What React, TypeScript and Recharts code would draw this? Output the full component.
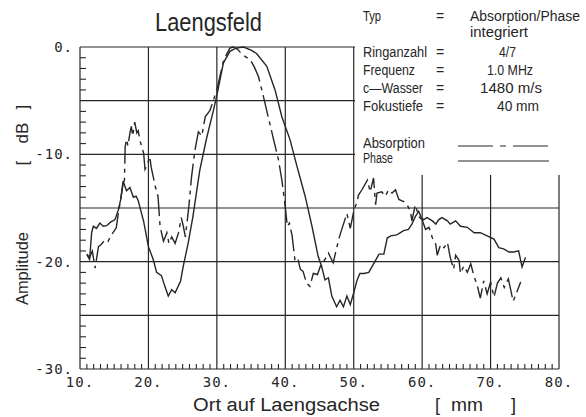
import React from "react";
import { LineChart, Line, XAxis, YAxis, ReferenceLine } from "recharts";

// Absorption (dash-dot) : [mm, dB]
const absorptionMm = [11.0, 11.4, 11.8, 12.2, 12.7, 13.1, 13.65, 14.1, 14.6, 15.3, 15.6, 16.0, 16.3, 16.5, 16.6, 16.8, 17.0, 17.3, 17.5, 17.7, 18.0, 18.3, 18.5, 18.8, 19.3, 19.5, 19.8, 20.2, 20.4, 21.0, 21.4, 21.7, 22.2, 22.7, 23.0, 23.4, 23.9, 24.4, 24.8, 25.1, 25.4, 25.9, 26.3, 26.8, 27.3, 27.8, 28.3, 29.0, 30.0, 31.0, 31.9, 32.4, 33.0, 33.7, 34.9, 35.5, 36.1, 36.8, 37.5, 38.3, 39.0, 39.5, 40.0, 40.3, 40.6, 41.0, 41.4, 41.8, 42.2, 42.6, 43.1, 43.6, 44.1, 44.7, 45.2, 45.8, 46.3, 47.0, 47.8, 48.0, 48.5, 49.0, 49.5, 50.0, 50.5, 50.7, 51.2, 52.0, 52.4, 52.9, 53.2, 53.4, 54.1, 54.6, 55.1, 55.6, 56.1, 56.6, 57.3, 57.8, 58.3, 58.5, 59.0, 59.5, 60.0, 60.5, 61.0, 61.5, 62.0, 62.2, 62.7, 63.2, 63.7, 64.1, 64.6, 64.9, 65.4, 65.6, 66.1, 66.6, 67.1, 67.6, 68.0, 68.5, 69.0, 69.5, 70.0, 70.5, 71.0, 71.5, 72.0, 72.6, 73.3, 74.4];
const absorptionDb = [-19.3, -19.6, -19.0, -20.6, -18.6, -18.4, -17.95, -18.1, -17.5, -16.85, -15.5, -14.0, -12.7, -12.4, -9.3, -8.6, -9.2, -8.0, -7.4, -8.3, -7.0, -8.0, -7.8, -8.8, -9.9, -11.4, -11.0, -10.2, -11.2, -13.0, -13.9, -16.7, -18.1, -17.3, -18.3, -17.7, -18.3, -17.3, -15.9, -16.7, -17.7, -14.9, -12.1, -9.6, -7.9, -8.3, -6.5, -5.9, -4.0, -1.2, -0.1, 0, -0.2, -0.7, -1.2, -1.9, -2.8, -4.6, -6.5, -8.65, -10.5, -12.4, -14.9, -16.7, -16.4, -17.6, -19.8, -19.6, -20.7, -20.9, -22.0, -22.3, -21.1, -21.2, -20.3, -19.8, -19.2, -20.1, -17.95, -17.5, -16.5, -15.5, -16.9, -15.3, -14.4, -13.8, -13.3, -12.4, -13.5, -12.2, -14.7, -13.6, -13.5, -13.9, -13.3, -13.6, -13.3, -14.2, -14.4, -14.7, -15.3, -16.2, -14.7, -15.8, -16.1, -17.0, -16.8, -17.8, -18.4, -19.4, -18.4, -18.7, -18.2, -19.6, -20.7, -19.4, -19.9, -21.1, -20.4, -21.0, -20.2, -21.4, -22.1, -23.4, -21.8, -23.0, -21.9, -23.3, -22.0, -21.5, -22.4, -21.6, -23.7, -21.9];

// Phase (solid) : [mm, dB]
const phaseMm = [11.0, 11.4, 11.7, 11.95, 12.4, 12.9, 13.4, 13.9, 14.5, 15.1, 15.6, 15.95, 16.3, 16.8, 17.3, 17.8, 18.2, 18.5, 19.3, 20.0, 20.7, 21.2, 21.9, 22.4, 22.9, 23.4, 23.9, 24.7, 25.1, 25.8, 26.5, 27.5, 28.5, 29.5, 30.0, 30.95, 31.9, 32.8, 33.9, 35.0, 35.8, 37.3, 38.5, 39.5, 40.7, 41.7, 42.9, 43.9, 44.8, 45.3, 45.8, 46.3, 46.8, 47.5, 48.0, 48.5, 49.0, 49.5, 50.0, 50.5, 50.9, 51.5, 52.2, 52.9, 53.7, 54.4, 54.9, 55.4, 56.3, 57.3, 58.0, 58.5, 59.0, 59.5, 59.8, 60.2, 60.7, 61.5, 62.0, 62.4, 62.9, 63.7, 64.1, 64.9, 65.6, 66.6, 67.6, 68.5, 69.5, 70.5, 71.2, 71.9, 72.7, 73.4, 74.1, 74.6, 75.1];
const phaseDb = [-19.35, -19.8, -17.3, -16.7, -16.9, -16.4, -16.7, -16.65, -16.3, -16.1, -15.2, -14.2, -12.5, -13.4, -13.1, -14.0, -13.9, -14.3, -16.25, -18.6, -19.8, -21.0, -21.3, -22.3, -23.2, -22.6, -22.9, -21.8, -20.4, -18.3, -15.8, -11.5, -8.5, -5.9, -4.5, -1.5, -0.4, -0.1, 0, -0.3, -0.6, -1.8, -4.0, -6.5, -8.65, -11.1, -13.9, -16.7, -19.5, -20.4, -21.7, -21.5, -23.2, -24.2, -23.6, -24.2, -23.2, -24.0, -22.9, -21.7, -21.1, -21.1, -21.0, -20.2, -19.3, -19.3, -17.8, -17.6, -17.5, -17.1, -17.0, -16.5, -15.8, -15.3, -15.8, -16.1, -15.9, -16.2, -16.5, -16.1, -15.9, -16.2, -16.5, -16.2, -16.7, -16.8, -17.3, -17.3, -17.6, -17.9, -18.7, -18.8, -19.1, -19.1, -19.0, -20.5, -19.6];

const majorX = [10, 20, 30, 40, 50, 60, 70, 80];
const majorYLabels = [0, -10, -20, -30];
const gridX = [10, 20, 30, 40, 50, 60, 70, 80];
const gridY = [0, -5, -10, -15, -20, -25, -30];

const minorX: number[] = [];
for (let v = 10; v <= 80; v++) minorX.push(v);
const minorY: number[] = [];
for (let v = -30; v <= 0; v++) minorY.push(v);

const absorptionData = absorptionMm.map((mm, i) => ({ mm, db: absorptionDb[i] }));
const phaseData = phaseMm.map((mm, i) => ({ mm, db: phaseDb[i] }));

const INK = "#262626";
const MONO = "'DejaVu Sans Mono', 'Liberation Mono', monospace";
const SANS = "'Liberation Sans', 'DejaVu Sans', sans-serif";

const XTick = (props: any) => {
  const { x, y, payload } = props;
  const v = payload.value;
  const major = majorX.includes(v);
  return (
    <g>
      {!major && <line x1={x} x2={x} y1={y} y2={y - 5} stroke={INK} strokeWidth={1.1} />}
      {major && (
        <text x={x} y={y + 18} textAnchor="middle" fontFamily={MONO} fontSize={14} fill={INK} letterSpacing={1}>
          {`${v}.`}
        </text>
      )}
    </g>
  );
};

const YTick = (props: any) => {
  const { x, y, payload } = props;
  const v = payload.value;
  const labeled = majorYLabels.includes(v);
  const onGrid = gridY.includes(v);
  return (
    <g>
      {!onGrid && <line x1={x} x2={x + 6} y1={y} y2={y} stroke={INK} strokeWidth={1.1} />}
      {labeled && (
        <text x={x - 7} y={y + 5} textAnchor="end" fontFamily={MONO} fontSize={14} fill={INK} letterSpacing={1}>
          {`${v}.`}
        </text>
      )}
    </g>
  );
};

const infoRows = [
  { label: "Typ", lw: 18, value: "Absorption/Phase", vw: 110, y: 21, vx: 470 },
  { label: "", lw: 0, value: "integriert", vw: 58, y: 37, vx: 470 },
  { label: "Ringanzahl", lw: 64, value: "4/7", vw: 17, y: 57, vx: 499 },
  { label: "Frequenz", lw: 52, value: "1.0 MHz", vw: 46, y: 75, vx: 487 },
  { label: "c\u2014Wasser", lw: 60, value: "1480 m/s", vw: 62, y: 93, vx: 480 },
  { label: "Fokustiefe", lw: 60, value: "40 mm", vw: 42, y: 111, vx: 497 },
];

const T = (p: any) => {
  const { children, w, ...rest } = p;
  return (
    <text fontFamily={SANS} fill={INK} textLength={w} lengthAdjust="spacingAndGlyphs" {...rest}>
      {children}
    </text>
  );
};

export default function App() {
  return (
    <div style={{ position: "absolute", left: 0, top: 0, width: 586, height: 417, background: "#fff" }}>
      <LineChart width={586} height={417} margin={{ top: 47, right: 27, bottom: 47, left: 79 }}>
        <XAxis
          dataKey="mm"
          type="number"
          domain={[10, 80]}
          ticks={minorX}
          interval={0}
          height={1}
          tickSize={0}
          tickMargin={0}
          tickLine={false}
          axisLine={false}
          tick={<XTick />}
          allowDuplicatedCategory={false}
        />
        <YAxis
          dataKey="db"
          type="number"
          domain={[-30, 0]}
          ticks={minorY}
          interval={0}
          width={1}
          tickSize={0}
          tickMargin={0}
          tickLine={false}
          axisLine={false}
          tick={<YTick />}
        />
        {gridX.map((v) => (
          <ReferenceLine key={"gx" + v} x={v} stroke={INK} strokeWidth={1.2} />
        ))}
        {gridY.map((v) => (
          <ReferenceLine key={"gy" + v} y={v} stroke={INK} strokeWidth={1.2} />
        ))}
        <Line
          data={absorptionData}
          dataKey="db"
          type="linear"
          stroke={INK}
          strokeWidth={1.4}
          strokeDasharray="22 5 4 5"
          dot={false}
          isAnimationActive={false}
        />
        <Line
          data={phaseData}
          dataKey="db"
          type="linear"
          stroke={INK}
          strokeWidth={1.4}
          dot={false}
          isAnimationActive={false}
        />
      </LineChart>
      <svg width={586} height={417} style={{ position: "absolute", left: 0, top: 0, pointerEvents: "none" }}>
        <rect x={355} y={0} width={231} height={175} fill="#fff" />
        <T x={155} y={31} fontSize={26} w={107}>
          Laengsfeld
        </T>
        {infoRows.map((r, i) => (
          <g key={i}>
            {r.label && (
              <T x={363} y={r.y} fontSize={14} w={r.lw}>
                {r.label}
              </T>
            )}
            {r.label && (
              <text x={440} y={r.y} textAnchor="middle" fontFamily={SANS} fontSize={14} fill={INK}>
                =
              </text>
            )}
            <T x={r.vx} y={r.y} fontSize={14} w={r.vw}>
              {r.value}
            </T>
          </g>
        ))}
        <T x={363} y={148} fontSize={14} w={62}>
          Absorption
        </T>
        <T x={363} y={163} fontSize={14} w={30}>
          Phase
        </T>
        <line x1={458} x2={549} y1={146} y2={146} stroke={INK} strokeWidth={1.2} strokeDasharray="35 7 6 7" />
        <line x1={458} x2={549} y1={161} y2={161} stroke={INK} strokeWidth={1.2} />
        <T x={193} y={411} fontSize={18} w={187}>
          Ort auf Laengsachse
        </T>
        <text x={435} y={411} fontFamily={SANS} fontSize={18} fill={INK}>
          [
        </text>
        <T x={451} y={411} fontSize={18} w={32}>
          mm
        </T>
        <text x={511} y={411} fontFamily={SANS} fontSize={18} fill={INK}>
          ]
        </text>
        <g transform="rotate(-90 28 305)">
          <T x={28} y={305} fontSize={17} w={73}>
            Amplitude
          </T>
        </g>
        <text x={28} y={163} textAnchor="middle" fontFamily={SANS} fontSize={17} fill={INK} transform="rotate(-90 28 163)">
          [
        </text>
        <text x={28} y={133} textAnchor="middle" fontFamily={SANS} fontSize={17} fill={INK} transform="rotate(-90 28 133)">
          dB
        </text>
        <text x={28} y={107} textAnchor="middle" fontFamily={SANS} fontSize={17} fill={INK} transform="rotate(-90 28 107)">
          ]
        </text>
      </svg>
    </div>
  );
}
